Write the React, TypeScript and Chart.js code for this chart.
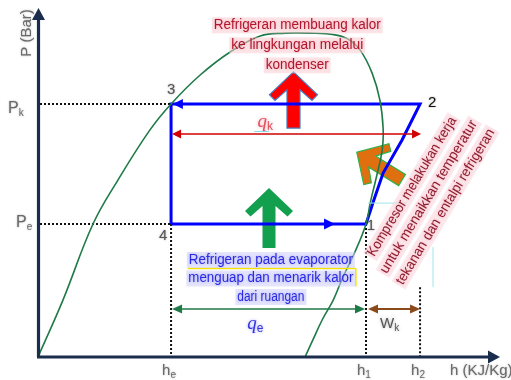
import { useEffect, useRef } from 'react';
import { Chart, registerables } from 'chart.js';

Chart.register(...registerables);

// Saturation dome: saturated-liquid branch up over the top, saturated-vapour branch back down
const domeEnthalpy = [0, 5.4, 11.9, 17.3, 24.2, 28.8, 35.1, 41.6, 48.1, 53.5, 58.9, 64.3, 67.1, 69.7, 72.3, 74.0, 74.7, 74.5, 73.2, 71.9, 71.0, 68.6, 66.0, 63.9, 61.5, 59.5, 57.8];
const domePressure = [0, 16.3, 38.1, 50.7, 65.0, 72.5, 80.8, 87.4, 92.0, 92.8, 92.8, 92.3, 91.1, 88.0, 81.4, 73.6, 65.6, 59.3, 51.3, 44.1, 38.1, 30.1, 22.9, 16.3, 10.6, 4.9, 0];

// Refrigeration cycle 4 -> 1 -> (compression) -> 2 -> 3 -> 4
const cycleEnthalpy = [28.8, 71.0, 72.7, 74.7, 78.8, 82.7, 28.8, 28.8];
const cyclePressure = [38.1, 38.1, 45.0, 52.7, 62.2, 72.5, 72.5, 38.1];

// Condensing / evaporating pressure levels
const pressureLevels = [72.5, 38.1];
const pressureSubs = ['k', 'e'];

// Enthalpy states marked on the h axis
const enthalpyStates = [28.8, 71.0, 82.7];
const enthalpySubs = ['e', '1', '2'];

// Numbered state points
const stateNames = ['1', '2', '3', '4'];
const stateEnthalpy = [71.0, 82.7, 28.8, 28.8];
const statePressure = [38.1, 72.5, 72.5, 38.1];

// Heights of the heat / work dimension arrows
const qkLevel = 63.9;
const qeLevel = 13.75;

const condenserText = ['Refrigeran membuang kalor', 'ke lingkungan melalui', 'kondenser'];
const evaporatorText = ['Refrigeran pada evaporator', 'menguap dan menarik kalor', 'dari ruangan'];
const compressorText = ['Kompresor melakukan kerja', 'untuk menaikkan temperatur', 'tekanan dan entalpi refrigeran'];

const FONT = 'Arial, "Liberation Sans", sans-serif';
const SERIF = '"Liberation Serif", "Times New Roman", serif';
const AXIS = '#1b2d4c';

type Ctx = CanvasRenderingContext2D;

// filled triangle with its tip at (x, y) pointing along ang
function tri(ctx: Ctx, x: number, y: number, ang: number, len: number, half: number) {
  const c = Math.cos(ang), s = Math.sin(ang);
  ctx.beginPath();
  ctx.moveTo(x, y);
  ctx.lineTo(x - c * len - s * half, y - s * len + c * half);
  ctx.lineTo(x - c * len + s * half, y - s * len - c * half);
  ctx.closePath();
  ctx.fill();
}

// horizontal double-headed dimension arrow
function dimArrow(ctx: Ctx, x1: number, x2: number, y: number, color: string, width: number, len: number, half: number) {
  ctx.save();
  ctx.strokeStyle = color;
  ctx.fillStyle = color;
  ctx.lineWidth = width;
  ctx.beginPath();
  ctx.moveTo(x1 + len * 0.5, y);
  ctx.lineTo(x2 - len * 0.5, y);
  ctx.stroke();
  tri(ctx, x1, y, Math.PI, len, half);
  tri(ctx, x2, y, 0, len, half);
  ctx.restore();
}

// chevron-headed block arrow from tail to tip
function blockArrow(ctx: Ctx, tipX: number, tipY: number, tailX: number, tailY: number, fill: string, stroke: string | null) {
  const len = Math.hypot(tailX - tipX, tailY - tipY);
  const ux = (tailX - tipX) / len, uy = (tailY - tipY) / len;
  const vx = -uy, vy = ux;
  const pts: [number, number][] = [
    [0, 0], [23, 24], [28.5, 18.5], [18, 6.5], [len, 6.5],
    [len, -6.5], [18, -6.5], [28.5, -18.5], [23, -24],
  ];
  ctx.save();
  ctx.beginPath();
  pts.forEach(([u, v], i) => {
    const px = tipX + ux * u + vx * v;
    const py = tipY + uy * u + vy * v;
    if (i === 0) ctx.moveTo(px, py); else ctx.lineTo(px, py);
  });
  ctx.closePath();
  ctx.fillStyle = fill;
  ctx.fill();
  if (stroke) {
    ctx.strokeStyle = stroke;
    ctx.lineWidth = 1.2;
    ctx.stroke();
  }
  ctx.restore();
}

// main text with a smaller lowered suffix
function subText(ctx: Ctx, main: string, sub: string, x: number, y: number, size: number, color: string, style = '', family = FONT) {
  ctx.save();
  ctx.fillStyle = color;
  ctx.textAlign = 'left';
  ctx.textBaseline = 'alphabetic';
  ctx.font = `${style}${size}px ${family}`;
  ctx.fillText(main, x, y);
  const w = ctx.measureText(main).width;
  ctx.font = `${Math.round(size * 0.65)}px ${FONT}`;
  ctx.fillText(sub, x + w, y + size * 0.18);
  ctx.restore();
}

// centred text lines on soft coloured bands
function bandText(ctx: Ctx, lines: string[], cx: number, cy: number, gap: number, widths: number[], color: string, band: string, glow: string) {
  ctx.save();
  ctx.font = `14px ${FONT}`;
  ctx.textAlign = 'center';
  ctx.textBaseline = 'middle';
  lines.forEach((t, i) => {
    const y = cy + (i - 1) * gap;
    const w = widths[i];
    ctx.fillStyle = band;
    ctx.fillRect(cx - w / 2 - 2, y - 8, w + 4, 16);
  });
  ctx.shadowColor = glow;
  ctx.shadowBlur = 3;
  ctx.fillStyle = color;
  lines.forEach((t, i) => {
    const y = cy + (i - 1) * gap;
    ctx.fillText(t, cx, y, widths[i]);
  });
  ctx.restore();
}

const decor = {
  id: 'cycleDecor',
  beforeDatasetsDraw(chart: Chart) {
    const { ctx } = chart;
    const xs = chart.scales.x, ys = chart.scales.y;
    const X = (h: number) => xs.getPixelForValue(h);
    const Y = (p: number) => ys.getPixelForValue(p);
    const x0 = X(0), y0 = Y(0);

    // dotted guide lines
    ctx.save();
    ctx.strokeStyle = '#111';
    ctx.lineWidth = 2;
    ctx.setLineDash([2, 2]);
    ctx.beginPath();
    pressureLevels.forEach((p) => {
      ctx.moveTo(x0 + 2, Y(p));
      ctx.lineTo(X(enthalpyStates[0]), Y(p));
    });
    ctx.moveTo(X(enthalpyStates[0]), Y(pressureLevels[1]));
    ctx.lineTo(X(enthalpyStates[0]), y0);
    ctx.moveTo(X(enthalpyStates[1]), Y(pressureLevels[1]));
    ctx.lineTo(X(enthalpyStates[1]), y0);
    ctx.moveTo(X(enthalpyStates[2]), Y(20));
    ctx.lineTo(X(enthalpyStates[2]), y0);
    ctx.stroke();
    ctx.restore();

    // block arrows: heat rejected, heat absorbed, compressor work
    blockArrow(ctx, X(55.3), Y(81.7), X(55.3), Y(65.6), '#ff0000', '#4a78c0');
    blockArrow(ctx, X(50.0), Y(48.4), X(50.0), Y(31.2), '#12a04f', null);
    blockArrow(ctx, X(69.0), Y(58.7), X(78.8), Y(50.7), '#e0700f', '#2db34a');
  },
  afterDatasetsDraw(chart: Chart) {
    const { ctx } = chart;
    const xs = chart.scales.x, ys = chart.scales.y;
    const X = (h: number) => xs.getPixelForValue(h);
    const Y = (p: number) => ys.getPixelForValue(p);
    const x0 = X(0), y0 = Y(0);
    const hE = X(enthalpyStates[0]), h1 = X(enthalpyStates[1]), h2 = X(enthalpyStates[2]);

    // flow direction on the cycle
    ctx.save();
    ctx.fillStyle = '#0000ff';
    tri(ctx, X(64.3), Y(pressureLevels[1]), 0, 11, 5.5);
    tri(ctx, X(29.2), Y(pressureLevels[0]), Math.PI, 10, 5);
    ctx.restore();

    // axes with arrowheads
    ctx.save();
    ctx.strokeStyle = AXIS;
    ctx.fillStyle = AXIS;
    ctx.lineWidth = 3.2;
    ctx.beginPath();
    ctx.moveTo(x0 + 0.5, y0);
    ctx.lineTo(x0 + 0.5, ys.top + 10);
    ctx.moveTo(x0 - 1, y0);
    ctx.lineTo(xs.right - 8, y0);
    ctx.stroke();
    tri(ctx, x0 + 0.5, ys.top, -Math.PI / 2, 12, 6.5);
    tri(ctx, xs.right, y0, 0, 12, 6.5);
    ctx.restore();

    // dimension arrows
    dimArrow(ctx, hE + 1, h2 + 1, Y(qkLevel), '#d00000', 1.5, 9, 4.5);
    dimArrow(ctx, hE + 1, h1 - 1, Y(qeLevel), '#1f7a48', 1.5, 10, 4.5);
    dimArrow(ctx, h1 + 2, h2, Y(qeLevel), '#8b4a1c', 2, 10, 4.5);

    // q and W labels
    ctx.save();
    ctx.strokeStyle = '#7fe0e8';
    ctx.lineWidth = 1;
    ctx.beginPath();
    ctx.moveTo(X(46.8), Y(qkLevel) - 2.5);
    ctx.lineTo(X(50.0), Y(qkLevel) - 2.5);
    ctx.stroke();
    ctx.restore();
    ctx.save();
    ctx.shadowColor = 'rgba(240,120,140,0.7)';
    ctx.shadowBlur = 3;
    subText(ctx, 'q', 'k', X(47.5), Y(qkLevel) - 7, 19, '#e0505e', 'italic ', SERIF);
    ctx.shadowColor = 'rgba(120,120,255,0.7)';
    subText(ctx, 'q', 'e', X(45.3), Y(qeLevel) + 20, 19, '#3434e0', 'italic ', SERIF);
    ctx.shadowColor = 'rgba(100,100,100,0.5)';
    subText(ctx, 'W', 'k', h1 + 14, Y(qeLevel) + 19, 15, '#555555');
    ctx.restore();

    // numbered states
    const offs: [number, number][] = [[5, 2], [12, -1], [0, -14], [-8, 12]];
    ctx.save();
    ctx.font = `15px ${FONT}`;
    ctx.textAlign = 'center';
    ctx.textBaseline = 'middle';
    ctx.shadowColor = 'rgba(90,90,90,0.6)';
    ctx.shadowBlur = 2;
    stateNames.forEach((n, i) => {
      ctx.fillStyle = n === '2' ? '#111111' : '#555555';
      ctx.fillText(n, X(stateEnthalpy[i]) + offs[i][0], Y(statePressure[i]) + offs[i][1]);
    });
    ctx.restore();

    // axis tick labels
    ctx.save();
    ctx.shadowColor = 'rgba(120,120,120,0.6)';
    ctx.shadowBlur = 2;
    subText(ctx, 'P', pressureSubs[0], x0 - 30, Y(pressureLevels[0]) + 9, 16, '#6a6a6a');
    subText(ctx, 'P', pressureSubs[1], x0 - 22, Y(pressureLevels[1]) + 3, 16, '#6a6a6a');
    enthalpyStates.forEach((h, i) => {
      subText(ctx, 'h', enthalpySubs[i], X(h) - 9, y0 + 18, 15, '#6a6a6a');
    });
    ctx.font = `15px ${FONT}`;
    ctx.fillStyle = '#6a6a6a';
    ctx.textAlign = 'left';
    ctx.textBaseline = 'alphabetic';
    ctx.fillText('h (KJ/Kg)', xs.right - 50, y0 + 18);
    ctx.translate(x0 - 11, ys.top + 25);
    ctx.rotate(-Math.PI / 2);
    ctx.font = `15px ${FONT}`;
    ctx.textAlign = 'center';
    ctx.textBaseline = 'middle';
    ctx.fillText('P (Bar)', 0, 0);
    ctx.restore();

    // condenser note
    bandText(ctx, condenserText, X(56.1), Y(89.3), 20, [167, 132, 63], '#b0162c', 'rgba(250,205,212,0.55)', 'rgba(240,120,140,0.6)');

    // evaporator note
    ctx.save();
    ctx.strokeStyle = '#f2e200';
    ctx.lineWidth = 1.5;
    ctx.beginPath();
    ctx.moveTo(X(50.4) - 83, Y(27.8) + 8.5);
    ctx.lineTo(X(50.4) + 85, Y(27.8) + 8.5);
    ctx.moveTo(X(50.4) + 85, Y(27.8) + 8.5);
    ctx.lineTo(X(50.4) + 85, Y(22.5) + 8);
    ctx.stroke();
    ctx.restore();
    bandText(ctx, evaporatorText, X(50.4), Y(22.5), 18.5, [164, 165, 67], '#2a2ae0', 'rgba(205,205,250,0.55)', 'rgba(110,110,250,0.6)');

    // compressor note, written along the compression line
    ctx.save();
    ctx.strokeStyle = '#9fe6ec';
    ctx.lineWidth = 1;
    ctx.beginPath();
    ctx.moveTo(h1 + 2, Y(44.1));
    ctx.lineTo(h1 + 41, Y(44.1));
    ctx.moveTo(h1 + 67, Y(31.5));
    ctx.lineTo(h1 + 67, Y(20));
    ctx.stroke();
    ctx.translate(X(84.6), Y(45.9));
    ctx.rotate(-59 * Math.PI / 180);
    ctx.restore();
    ctx.save();
    ctx.translate(X(84.6), Y(45.9));
    ctx.rotate(-59 * Math.PI / 180);
    bandText(ctx, compressorText, 0, 0, 19.5, [160, 176, 179], '#8e1c2e', 'rgba(250,215,222,0.6)', 'rgba(235,130,150,0.6)');
    ctx.restore();
  },
};

export default function App() {
  const ref = useRef<HTMLCanvasElement>(null);

  useEffect(() => {
    const canvas = ref.current;
    if (!canvas) return;
    const chart = new Chart(canvas, {
      type: 'scatter',
      data: {
        datasets: [
          {
            data: domeEnthalpy.map((h, i) => ({ x: h, y: domePressure[i] })),
            showLine: true,
            borderColor: '#1f7a48',
            borderWidth: 1.6,
            pointRadius: 0,
            tension: 0.4,
          },
          {
            data: cycleEnthalpy.map((h, i) => ({ x: h, y: cyclePressure[i] })),
            showLine: true,
            borderColor: '#0000ff',
            borderWidth: 3,
            pointRadius: 0,
            tension: 0,
            borderJoinStyle: 'miter',
          },
        ],
      },
      options: {
        responsive: false,
        animation: false,
        devicePixelRatio: 1,
        events: [],
        layout: { padding: { left: 38, right: 11, top: 8, bottom: 23 } },
        scales: {
          x: { type: 'linear', min: 0, max: 100, display: false },
          y: { type: 'linear', min: 0, max: 100, display: false },
        },
        plugins: { legend: { display: false }, tooltip: { enabled: false } },
      },
      plugins: [decor],
    });
    return () => chart.destroy();
  }, []);

  return (
    <div style={{ position: 'fixed', left: 0, top: 0, width: 511, height: 380, background: '#fff' }}>
      <canvas ref={ref} width={511} height={380} style={{ display: 'block' }} />
    </div>
  );
}
